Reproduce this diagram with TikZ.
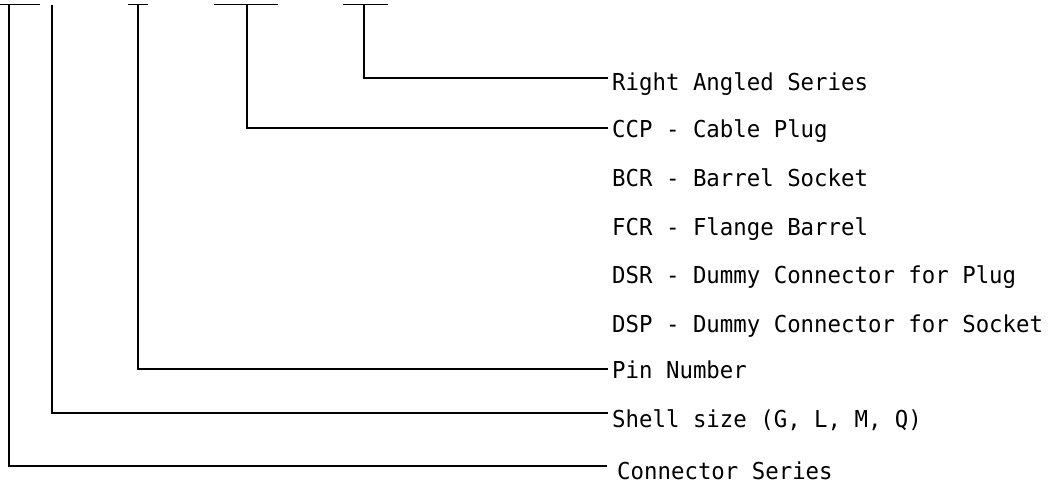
\documentclass[tikz,border=0pt]{standalone}
\usepackage{fontspec}
\newfontfamily\lblfont[FakeStretch=0.96]{DejaVu Sans Mono}
\begin{document}
\begin{tikzpicture}[x=1pt,y=-1pt,
  wire/.style={line width=1.3pt, black},
  lbl/.style={anchor=base west, inner sep=0pt, font=\lblfont\fontsize{23.3}{27}\selectfont}]
\useasboundingbox (0,0) rectangle (1049,483);
% labels
\node[lbl] (ra)  at (612,90)  {Right Angled Series};
\node[lbl] (ccp) at (612,137) {CCP - Cable Plug};
\node[lbl] (bcr) at (612,186) {BCR - Barrel Socket};
\node[lbl] (fcr) at (612,235) {FCR - Flange Barrel};
\node[lbl] (dsr) at (612,283) {DSR - Dummy Connector for Plug};
\node[lbl] (dsp) at (612,332) {DSP - Dummy Connector for Socket};
\node[lbl] (pin) at (612,378) {Pin Number};
\node[lbl] (shl) at (612,427) {Shell size (G, L, M, Q)};
\node[lbl] (con) at (617,479) {Connector Series};
% top bars
\draw[wire] (0,4.5) -- (40,4.5);
\draw[wire] (128,4.5) -- (148,4.5);
\draw[wire] (214,4.5) -- (278,4.5);
\draw[wire] (343,4.5) -- (388,4.5);
% tops of the legs
\coordinate (t1) at (9,4.5);
\coordinate (t2) at (52,4.5);
\coordinate (t3) at (138,4.5);
\coordinate (t4) at (247,4.5);
\coordinate (t5) at (364,4.5);
% line ends at the labels
\coordinate (e5) at (608,78);
\coordinate (e4) at (608,128);
\coordinate (e3) at (608,369);
\coordinate (e2) at (608,413);
\coordinate (e1) at (607,466);
\draw[wire] (t5) |- (e5);
\draw[wire] (t4) |- (e4);
\draw[wire] (t3) |- (e3);
\draw[wire] (t2) |- (e2);
\draw[wire] (t1) |- (e1);
\end{tikzpicture}
\end{document}
